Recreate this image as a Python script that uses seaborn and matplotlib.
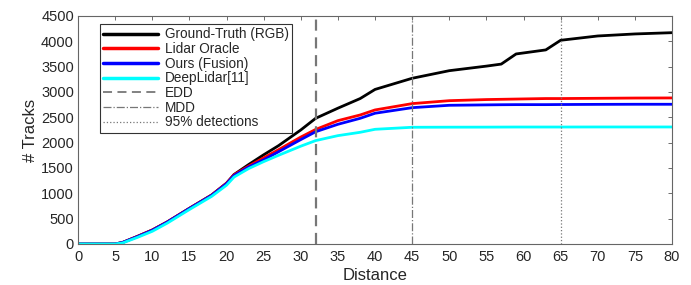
import matplotlib
matplotlib.use("Agg")
import matplotlib.pyplot as plt
import seaborn as sns
import pandas as pd
from matplotlib.lines import Line2D

sns.set_theme(style="white")
plt.rcParams['font.family'] = ['Liberation Sans', 'DejaVu Sans']

distance = [0, 5, 6, 8, 10, 12, 15, 18, 20, 21, 23, 25, 27, 30, 32, 35, 38, 40, 45,
            50, 55, 57, 59, 63, 65, 70, 75, 80]
gt_rgb = [0, 0, 30, 150, 276, 434, 704, 967, 1200, 1370, 1570, 1760, 1940, 2250, 2480,
          2680, 2870, 3050, 3270, 3420, 3510, 3550, 3750, 3830, 4020, 4105, 4145, 4170]
lidar_oracle = [0, 0, 30, 150, 276, 434, 704, 967, 1200, 1365, 1540, 1700, 1860, 2110,
                2260, 2434, 2546, 2645, 2770, 2828, 2850, 2855, 2860, 2870, 2870, 2875,
                2880, 2882]
ours_fusion = [0, 0, 30, 145, 270, 430, 700, 960, 1190, 1350, 1520, 1660, 1820, 2060,
               2215, 2362, 2480, 2580, 2690, 2737, 2745, 2748, 2750, 2750, 2752, 2755,
               2757, 2757]
deeplidar = [0, 0, 20, 130, 250, 410, 680, 940, 1160, 1320, 1490, 1625, 1750, 1930,
             2040, 2138, 2204, 2263, 2303, 2305, 2306, 2307, 2308, 2308, 2308, 2309,
             2309, 2309]

series_names = ["Ground-Truth (RGB)", "Lidar Oracle", "Ours (Fusion)", "DeepLidar[11]"]
series_vals = [gt_rgb, lidar_oracle, ours_fusion, deeplidar]
colors = ["#000000", "#ff0000", "#0000ff", "#00ffff"]

edd = 32
mdd = 45
det95 = 65

rows = []
for name, vals in zip(series_names, series_vals):
    for d, v in zip(distance, vals):
        rows.append({"Distance": d, "Tracks": v, "Method": name})
df = pd.DataFrame(rows)

fig = plt.figure(figsize=(6.91, 2.85), dpi=100)
ax = fig.add_axes([0.113, 0.144, 0.8595, 0.80])

sns.lineplot(data=df, x="Distance", y="Tracks", hue="Method", hue_order=series_names,
             palette=colors, linewidth=2.0, ax=ax, legend=False)

ax.axvline(edd, color="#777777", linestyle=(0, (5, 3)), linewidth=1.6)
ax.axvline(mdd, color="#777777", linestyle="-.", linewidth=0.9)
ax.axvline(det95, color="#777777", linestyle=":", linewidth=0.9)

handles = [Line2D([], [], color=c, lw=2.5) for c in colors]
handles += [Line2D([], [], color="#777777", lw=1.3, linestyle=(0, (5, 3))),
            Line2D([], [], color="#777777", lw=0.9, linestyle="-."),
            Line2D([], [], color="#777777", lw=0.9, linestyle=":")]
labels = series_names + ["EDD", "MDD", "95% detections"]
leg = ax.legend(handles, labels, loc="upper left", bbox_to_anchor=(0.037, 0.965),
                fontsize=9.8, handlelength=4.0, handletextpad=0.5, labelspacing=0.05,
                borderpad=0.25, frameon=True, fancybox=False, borderaxespad=0)
leg.get_frame().set_edgecolor("black")
leg.get_frame().set_linewidth(0.8)

ax.set_xlim(0, 80)
ax.set_ylim(0, 4500)
ax.set_xticks(list(range(0, 81, 5)))
ax.set_yticks(list(range(0, 4501, 500)))
ax.set_xlabel("Distance", fontsize=12, labelpad=3)
ax.set_ylabel("# Tracks", fontsize=12, labelpad=2)
ax.tick_params(axis="x", pad=4)
ax.tick_params(axis="y", pad=3)
ax.tick_params(axis="both", which="both", direction="in", length=3, width=0.6,
               top=True, right=True, labelsize=10.5, color="#555555")
for s in ax.spines.values():
    s.set_color("#666666")
    s.set_linewidth(0.8)

fig.savefig("out.png", dpi=100)
